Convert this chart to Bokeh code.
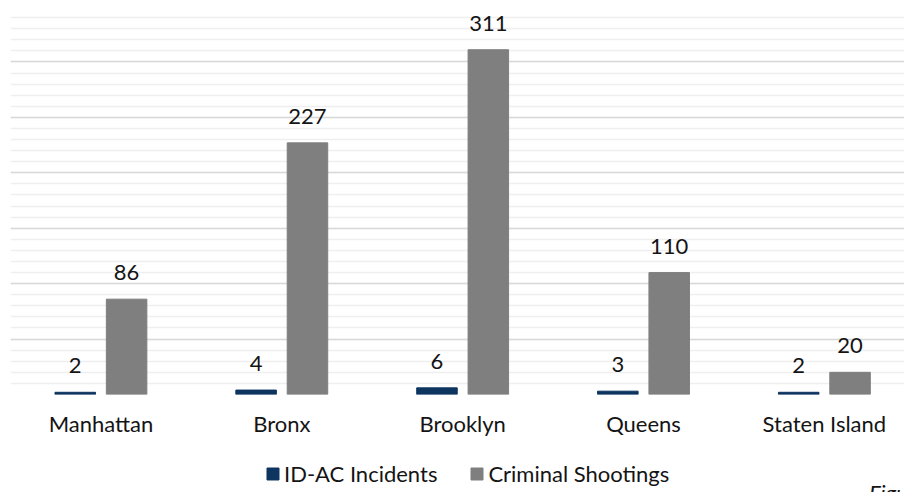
from bokeh.plotting import figure
from bokeh.layouts import column
from bokeh.models import (ColumnDataSource, Range1d, SingleIntervalTicker, FixedTicker,
                          LabelSet, Legend, LegendItem, Label)
from bokeh.core.properties import value
from bokeh.embed import file_html
from bokeh.resources import INLINE

# Incidents by borough
boroughs = ["Manhattan", "Bronx", "Brooklyn", "Queens", "Staten Island"]
idac_incidents = [2, 4, 6, 3, 2]
criminal_shootings = [86, 227, 311, 110, 20]

NAVY = "#0E3460"
GRAY = "#7F7F7F"
TEXT = "#141414"
FONT = "Lato"
SIZE = "22px"

idx = list(range(len(boroughs)))
offset = 0.142
bar_w = 0.224

src_a = ColumnDataSource(dict(x=[i - offset for i in idx], y=idac_incidents,
                              lab=[str(v) for v in idac_incidents]))
src_b = ColumnDataSource(dict(x=[i + offset for i in idx], y=criminal_shootings,
                              lab=[str(v) for v in criminal_shootings]))

# ---- main chart ----
p = figure(width=904, height=450, output_backend="svg", toolbar_location=None,
           x_range=Range1d(-0.5, 4.443), y_range=Range1d(0, 350),
           min_border_left=10, min_border_right=0, min_border_top=6,
           min_border_bottom=56)
p.outline_line_color = None

p.vbar(x="x", top="y", width=bar_w, source=src_a, color=NAVY)
p.vbar(x="x", top="y", width=bar_w, source=src_b, color=GRAY)

# value labels above each bar
for src in (src_a, src_b):
    p.add_layout(LabelSet(x="x", y="y", text="lab", source=src, y_offset=19,
                          text_align="center", text_baseline="alphabetic",
                          text_font=value(FONT), text_font_size=SIZE,
                          text_color=TEXT))

# horizontal grid only, hidden value axis
p.yaxis.ticker = SingleIntervalTicker(interval=50, num_minor_ticks=5)
p.yaxis.visible = False
p.ygrid.grid_line_color = "#d9d9d9"
p.ygrid.grid_line_width = 1.5
p.ygrid.minor_grid_line_color = "#efefef"
p.ygrid.minor_grid_line_width = 1.5
p.xgrid.grid_line_color = None

# category axis
p.xaxis.ticker = FixedTicker(ticks=idx)
p.xaxis.major_label_overrides = {i: b for i, b in zip(idx, boroughs)}
p.xaxis.axis_line_color = None
p.xaxis.major_tick_line_color = None
p.xaxis.minor_tick_line_color = None
p.xaxis.major_label_standoff = 9
p.xaxis.major_label_text_font = FONT
p.xaxis.major_label_text_font_size = SIZE
p.xaxis.major_label_text_color = TEXT

# ---- legend strip ----
leg = figure(width=904, height=42, output_backend="svg", toolbar_location=None,
             x_range=Range1d(0, 904), y_range=Range1d(42, 0),
             min_border=0, x_axis_location=None, y_axis_location=None)
leg.outline_line_color = None
leg.grid.visible = False
# zero-size swatch renderers that only feed the legend
ra = leg.vbar(x=[0], top=[0], bottom=[0], width=0, color=NAVY)
rb = leg.vbar(x=[0], top=[0], bottom=[0], width=0, color=GRAY)

legend = Legend(items=[LegendItem(label="ID-AC Incidents", renderers=[ra]),
                       LegendItem(label="Criminal Shootings", renderers=[rb])],
                orientation="horizontal", location=(255, 5),
                glyph_width=15, glyph_height=15, label_standoff=4, spacing=32,
                padding=0, margin=0, border_line_color=None,
                background_fill_alpha=0,
                label_text_font=FONT, label_text_font_size=SIZE,
                label_text_color=TEXT, label_height=22)
leg.add_layout(legend)

leg.add_layout(Label(x=868, y=28, text="Figure 1", text_font=FONT,
                     text_font_size=SIZE, text_font_style="italic",
                     text_baseline="top", text_color=TEXT))

open("out.html", "w").write(file_html(column(p, leg, spacing=0), INLINE))
